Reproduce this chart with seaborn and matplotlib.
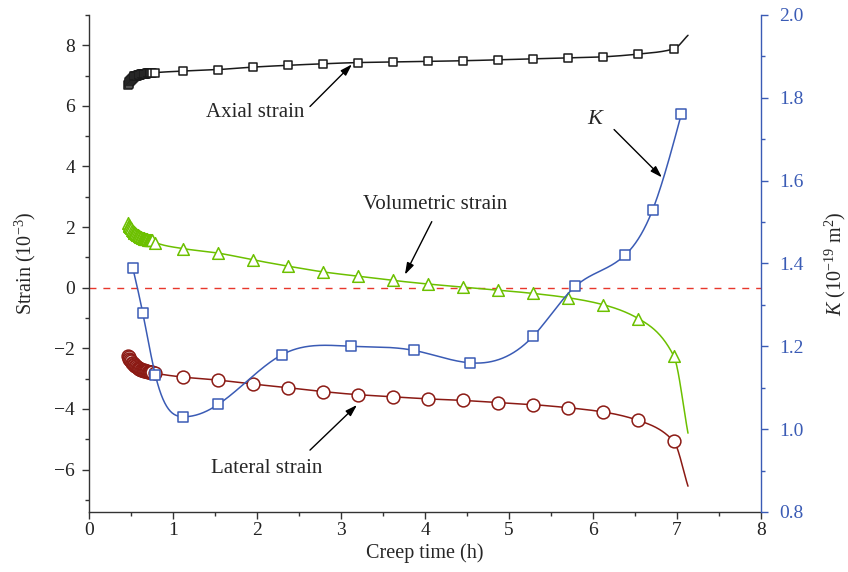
import numpy as np
import matplotlib.pyplot as plt
import seaborn as sns
from matplotlib.ticker import MultipleLocator

# =========================
# DATA
# =========================
# dense records at the start of creep (h)
t_early = [0.46, 0.47, 0.48, 0.49, 0.50, 0.51, 0.52, 0.53, 0.54, 0.55,
           0.56, 0.57, 0.58, 0.59, 0.60, 0.61, 0.62, 0.63, 0.64, 0.65,
           0.66, 0.67, 0.68, 0.69, 0.70, 0.71, 0.72, 0.73, 0.74, 0.75]
# regular records (h)
t_main = [0.79, 1.12, 1.54, 1.95, 2.37, 2.79, 3.20, 3.62, 4.04, 4.45,
          4.87, 5.29, 5.70, 6.12, 6.54, 6.96]
t_last = 7.13

axial_early = [6.68, 6.73, 6.78, 6.83, 6.87, 6.90, 6.93, 6.95, 6.97, 6.98,
               6.99, 7.00, 7.01, 7.02, 7.03, 7.03, 7.04, 7.04, 7.05, 7.05,
               7.06, 7.06, 7.06, 7.07, 7.07, 7.07, 7.08, 7.08, 7.08, 7.09]
axial_main = [7.10, 7.15, 7.20, 7.28, 7.34, 7.39, 7.43, 7.45, 7.47, 7.49,
              7.52, 7.55, 7.58, 7.62, 7.71, 7.88]
axial_last = 8.33

vol_early = [2.12, 2.08, 2.04, 2.00, 1.96, 1.92, 1.88, 1.85, 1.82, 1.79,
             1.77, 1.75, 1.73, 1.71, 1.69, 1.68, 1.66, 1.65, 1.64, 1.63,
             1.62, 1.61, 1.61, 1.60, 1.59, 1.59, 1.58, 1.58, 1.57, 1.57]
vol_main = [1.49, 1.29, 1.14, 0.92, 0.71, 0.52, 0.38, 0.24, 0.12, 0.02,
            -0.08, -0.19, -0.33, -0.56, -1.02, -2.25]
vol_last = -4.80

lat_early = [-2.24, -2.29, -2.34, -2.39, -2.43, -2.47, -2.50, -2.53, -2.56, -2.58,
             -2.60, -2.62, -2.64, -2.66, -2.67, -2.68, -2.70, -2.71, -2.72, -2.73,
             -2.74, -2.75, -2.75, -2.76, -2.77, -2.77, -2.78, -2.78, -2.79, -2.79]
lat_main = [-2.82, -2.95, -3.05, -3.18, -3.30, -3.43, -3.53, -3.60, -3.67, -3.72,
            -3.79, -3.86, -3.96, -4.10, -4.38, -5.07]
lat_last = -6.55

# permeability K (1e-19 m^2)
t_K = [0.52, 0.64, 0.79, 1.12, 1.54, 2.30, 3.12, 3.87, 4.54, 5.29, 5.79, 6.38, 6.71, 7.05]
K_vals = [1.39, 1.28, 1.13, 1.03, 1.06, 1.18, 1.20, 1.19, 1.16, 1.225, 1.345, 1.42, 1.53, 1.76]

C_AX = "#1a1a1a"
C_VOL = "#6cc000"
C_LAT = "#8b1a14"
C_K = "#3a5bb5"
C_ZERO = "#e8372c"


def spline(x, y, n=600):
    # natural cubic spline, only used to draw the K connecting curve
    x = np.asarray(x, float)
    y = np.asarray(y, float)
    h = np.diff(x)
    m = len(x)
    A = np.zeros((m, m))
    b = np.zeros(m)
    A[0, 0] = A[-1, -1] = 1
    for i in range(1, m - 1):
        A[i, i - 1] = h[i - 1]
        A[i, i] = 2 * (h[i - 1] + h[i])
        A[i, i + 1] = h[i]
        b[i] = 3 * ((y[i + 1] - y[i]) / h[i] - (y[i] - y[i - 1]) / h[i - 1])
    c = np.linalg.solve(A, b)
    bb = (y[1:] - y[:-1]) / h - h * (2 * c[:-1] + c[1:]) / 3
    d = (c[1:] - c[:-1]) / (3 * h)
    xs = np.linspace(x[0], x[-1], n)
    k = np.clip(np.searchsorted(x, xs) - 1, 0, m - 2)
    dx = xs - x[k]
    return xs, y[k] + bb[k] * dx + c[k] * dx ** 2 + d[k] * dx ** 3


def pchip(x, y, n=800):
    # shape-preserving cubic (no overshoot), used for the strain curves
    x = np.asarray(x, float)
    y = np.asarray(y, float)
    h = np.diff(x)
    delta = np.diff(y) / h
    m = len(x)
    d = np.zeros(m)
    for i in range(1, m - 1):
        if delta[i - 1] * delta[i] > 0:
            w1 = 2 * h[i] + h[i - 1]
            w2 = h[i] + 2 * h[i - 1]
            d[i] = (w1 + w2) / (w1 / delta[i - 1] + w2 / delta[i])
    d[0] = delta[0]
    d[-1] = delta[-1]
    xs = np.linspace(x[0], x[-1], n)
    k = np.clip(np.searchsorted(x, xs) - 1, 0, m - 2)
    t = (xs - x[k]) / h[k]
    h00 = 2 * t ** 3 - 3 * t ** 2 + 1
    h10 = t ** 3 - 2 * t ** 2 + t
    h01 = -2 * t ** 3 + 3 * t ** 2
    h11 = t ** 3 - t ** 2
    ys = h00 * y[k] + h10 * h[k] * d[k] + h01 * y[k + 1] + h11 * h[k] * d[k + 1]
    return xs, ys


sns.set_style("ticks")
plt.rcParams['font.family'] = 'serif'
plt.rcParams['font.serif'] = ['Liberation Serif', 'DejaVu Serif']
plt.rcParams['mathtext.fontset'] = 'custom'
plt.rcParams['mathtext.rm'] = 'Liberation Serif'
plt.rcParams['mathtext.it'] = 'Liberation Serif:italic'

fig = plt.figure(figsize=(8.48, 5.72), dpi=100)
ax = fig.add_axes([0.105, 0.105, 0.7925, 0.8688])
ax2 = ax.twinx()

# =========================
# STRAIN CURVES
# =========================
series = [
    (axial_early, axial_main, axial_last, C_AX, 's', 40),
    (vol_early, vol_main, vol_last, C_VOL, '^', 70),
    (lat_early, lat_main, lat_last, C_LAT, 'o', 85),
]
for early, main, last, col, mk, size in series:
    tx = t_early + t_main + [t_last]
    vy = early + main + [last]
    xs, ys = pchip(tx, vy)
    sns.lineplot(x=xs, y=ys, ax=ax, color=col, lw=1.1, errorbar=None, zorder=2)
    sns.scatterplot(x=t_early + t_main, y=early + main, ax=ax, marker=mk, s=size,
                    color='white', edgecolor=col, linewidth=1.1, zorder=3)

ax.axhline(0, color=C_ZERO, lw=1.0, ls=(0, (5, 5)), zorder=1)

# =========================
# PERMEABILITY
# =========================
xs, ys = spline(t_K, K_vals)
sns.lineplot(x=xs, y=ys, ax=ax2, color=C_K, lw=1.1, errorbar=None, zorder=2)
sns.scatterplot(x=t_K, y=K_vals, ax=ax2, marker='s', s=55,
                color='white', edgecolor=C_K, linewidth=1.1, zorder=3)

# =========================
# AXES
# =========================
ax.set_xlim(0, 8)
ax.set_ylim(-7.4, 9.0)
ax2.set_ylim(0.8, 2.0)
ax.xaxis.set_major_locator(MultipleLocator(1))
ax.xaxis.set_minor_locator(MultipleLocator(0.5))
ax.yaxis.set_major_locator(MultipleLocator(2))
ax.yaxis.set_minor_locator(MultipleLocator(1))
ax2.yaxis.set_major_locator(MultipleLocator(0.2))
ax2.yaxis.set_minor_locator(MultipleLocator(0.1))
ax2.yaxis.set_major_formatter(plt.FormatStrFormatter('%.1f'))

ax.spines['top'].set_visible(False)
ax.spines['right'].set_visible(False)
for s in ['top', 'left', 'bottom']:
    ax2.spines[s].set_visible(False)
for s in ['left', 'bottom']:
    ax.spines[s].set_color('#333333')
    ax.spines[s].set_linewidth(1.0)
ax2.spines['right'].set_color(C_K)
ax2.spines['right'].set_linewidth(1.0)

ax.tick_params(which='major', direction='out', length=5, width=1.0, color='#333333',
               labelsize=14, labelcolor='#222222', pad=5)
ax.tick_params(axis='x', which='major', pad=2)
ax.tick_params(which='minor', direction='out', length=3, width=1.0, color='#333333')
ax2.tick_params(which='major', direction='out', length=5, width=1.0, color=C_K,
                labelsize=14, labelcolor=C_K, pad=8)
ax2.tick_params(which='minor', direction='out', length=3, width=1.0, color=C_K)

ax.set_xlabel('Creep time (h)', fontsize=14.5, labelpad=3)
ax.set_ylabel('Strain (10$^{-3}$)', fontsize=14.5, labelpad=12)
ax2.set_ylabel('$K$ (10$^{-19}$ m$^{2}$)', fontsize=14.5, labelpad=14, rotation=90)

# =========================
# ANNOTATIONS
# =========================
arrow = dict(arrowstyle='-|>,head_length=0.7,head_width=0.22', color='black', lw=1.0,
             shrinkA=0, shrinkB=0)
ax.text(1.98, 5.79, 'Axial strain', fontsize=15, ha='center', va='center')
ax.annotate('', xy=(3.13, 7.37), xytext=(2.63, 5.98), arrowprops=arrow)
ax.text(4.12, 2.74, 'Volumetric strain', fontsize=15, ha='center', va='center')
ax.annotate('', xy=(3.76, 0.43), xytext=(4.08, 2.18), arrowprops=arrow)
ax.text(2.12, -5.95, 'Lateral strain', fontsize=15, ha='center', va='center')
ax.annotate('', xy=(3.19, -3.87), xytext=(2.63, -5.36), arrowprops=arrow)
ax.text(6.04, 5.55, '$K$', fontsize=16, ha='center', va='center')
ax.annotate('', xy=(6.82, 3.64), xytext=(6.25, 5.22), arrowprops=arrow)

plt.savefig('out.png', dpi=100)
plt.close()
